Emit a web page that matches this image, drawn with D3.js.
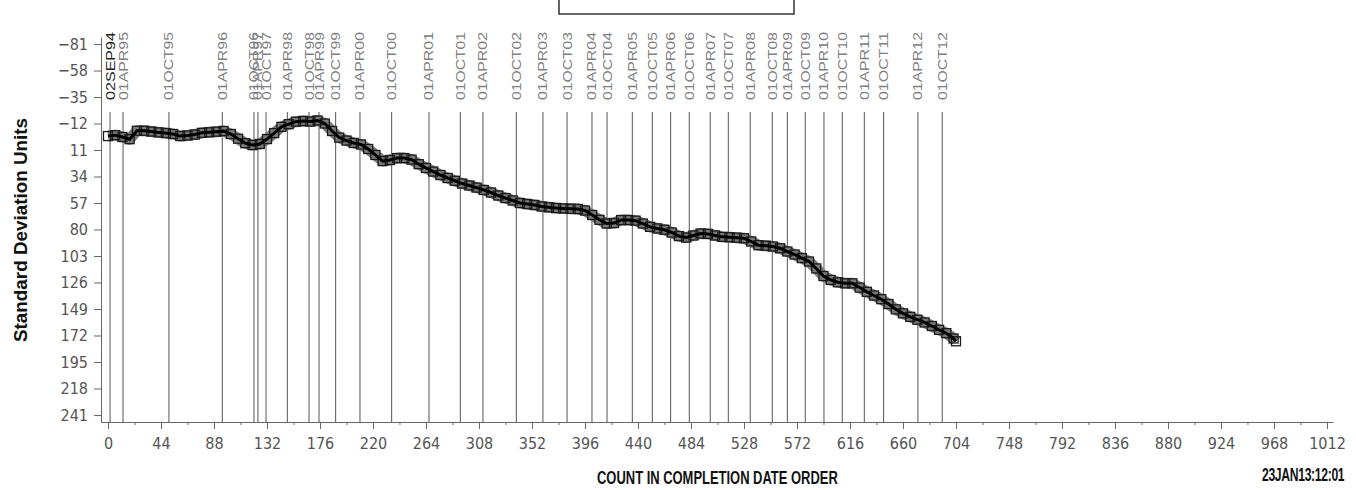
<!DOCTYPE html>
<html>
<head>
<meta charset="utf-8">
<script src="https://d3js.org/d3.v7.min.js"></script>
<style>
  body { margin: 0; background: #fff; }
  svg { display: block; }
  .tick text { font-family: "Liberation Sans Narrow", "DejaVu Sans Condensed", sans-serif; font-size: 16px; fill: #555; }
  .tick line, .domain { stroke: #666; }
</style>
</head>
<body>
<div id="chart"></div>
<script>
// completion count order
var counts = [0, 6, 12, 18, 24, 30, 36, 42, 48, 54, 60, 66, 72, 78, 84, 90, 96, 102, 108, 114,
  120, 126, 132, 138, 144, 150, 156, 162, 168, 174, 180, 186, 192, 198, 204, 210, 216, 222, 228, 234,
  240, 246, 252, 258, 264, 270, 276, 282, 288, 294, 300, 306, 312, 318, 324, 330, 336, 342, 348, 354,
  360, 366, 372, 378, 384, 390, 396, 402, 408, 414, 420, 426, 432, 438, 444, 450, 456, 462, 468, 474,
  480, 486, 492, 498, 504, 510, 516, 522, 528, 534, 540, 546, 552, 558, 564, 570, 576, 582, 588, 594,
  600, 606, 612, 618, 624, 630, 636, 642, 648, 654, 660, 666, 672, 678, 684, 690, 696, 702, 704];

// standard deviation units (cumulative)
var devUnits = [-1.1, -1.9, -0.3, 1.6, -5.7, -5.7, -5.0, -4.3, -3.7, -2.9, -1.1, -1.6, -2.4, -3.9, -4.4, -4.9, -5.5, -2.9, 1.2, 5.1,
  6.7, 5.8, 1.5, -3.7, -9.1, -11.4, -13.6, -14.2, -13.7, -14.6, -12, -5.5, 0.2, 2.8, 4.9, 6.2, 10.1, 15.3, 20.6, 19.7,
  18, 18, 19.3, 23.3, 26.6, 29.7, 32.7, 35.3, 37.7, 40.1, 41.8, 43.6, 45.7, 47.9, 50.5, 52.7, 54.8, 57, 57.9, 58.7,
  60, 60.7, 61.4, 61.7, 62, 62.2, 63.5, 67.4, 71.6, 74.8, 74.4, 71.8, 71.8, 72.3, 74.8, 77.7, 79.1, 80.2, 82.6, 85.7,
  87, 85.2, 83.5, 83.8, 85.2, 86.4, 86.7, 87.1, 87.6, 90.4, 93.6, 94.1, 94.8, 96.3, 99.1, 101.7, 104.8, 107.8, 113.8, 120.4,
  123.8, 125.8, 126.7, 126.7, 130.4, 134.1, 137.3, 140.5, 144.7, 149.3, 152.8, 155.8, 158.3, 160.7, 163.8, 167.1, 170, 174.6, 177];

// date reference lines
var refCounts = [1.7, 12.5, 50.6, 94.9, 121.2, 124.5, 131.2, 148.9, 166.9, 175.2, 189.0, 209.2, 235.5,
  266.5, 292.5, 311.3, 339.0, 361.1, 381.1, 401.8, 414.3, 435.3, 451.9, 467.1, 482.6, 500.0, 515.0,
  533.2, 551.5, 564.0, 578.9, 594.4, 609.6, 627.9, 643.9, 672.4, 692.6];
var refLabels = ["02SEP94", "01APR95", "01OCT95", "01APR96", "01OCT96", "01APR97", "01OCT97", "01APR98",
  "01OCT98", "01APR99", "01OCT99", "01APR00", "01OCT00", "01APR01", "01OCT01", "01APR02", "01OCT02",
  "01APR03", "01OCT03", "01APR04", "01OCT04", "01APR05", "01OCT05", "01APR06", "01OCT06", "01APR07",
  "01OCT07", "01APR08", "01OCT08", "01APR09", "01OCT09", "01APR10", "01OCT10", "01APR11", "01OCT11",
  "01APR12", "01OCT12"];

var xTicks = [0, 44, 88, 132, 176, 220, 264, 308, 352, 396, 440, 484, 528, 572, 616, 660, 704, 748, 792, 836, 880, 924, 968, 1012];
var xMinorTicks = [22, 66, 110, 154, 198, 242, 286, 330, 374, 418, 462, 506, 550, 594, 638, 682, 726, 770, 814, 858, 902, 946, 990];
var yTicks = [-81, -58, -35, -12, 11, 34, 57, 80, 103, 126, 149, 172, 195, 218, 241];

var width = 1356, height = 490;

var svg = d3.select("#chart").append("svg")
    .attr("width", width)
    .attr("height", height);

var x = d3.scaleLinear().domain([-5.8, 1017]).range([101, 1333]);
var y = d3.scaleLinear().domain([-87.1, 247.1]).range([37, 422]);

// header box (cut off at the top)
svg.append("rect")
    .attr("x", 559).attr("y", -3)
    .attr("width", 235).attr("height", 17)
    .style("fill", "#fff").style("stroke", "#333").style("stroke-width", 1.5);

// reference lines
svg.selectAll(".refline")
    .data(refCounts)
    .enter().append("line")
    .attr("class", "refline")
    .attr("x1", function (d) { return x(d); })
    .attr("x2", function (d) { return x(d); })
    .attr("y1", 112)
    .attr("y2", y.range()[1])
    .style("stroke", "#555")
    .style("stroke-width", 1);

svg.selectAll(".reflabel")
    .data(refCounts)
    .enter().append("text")
    .attr("class", "reflabel")
    .attr("transform", function (d) { return "translate(" + (x(d) + 4.5) + ",100) rotate(-90)"; })
    .attr("textLength", 68)
    .attr("lengthAdjust", "spacingAndGlyphs")
    .style("font-family", "Liberation Sans, Arial, sans-serif")
    .style("font-size", "12.5px")
    .style("fill", function (d, i) { return i == 0 ? "#222" : "#808080"; })
    .text(function (d, i) { return refLabels[i]; });

// axes
var yAxis = d3.axisLeft(y).tickValues(yTicks).tickSize(7).tickPadding(6).tickSizeOuter(0)
    .tickFormat(function (d) { return d < 0 ? "\u2212" + Math.abs(d) : d; });
svg.append("g")
    .attr("transform", "translate(101,0)")
    .call(yAxis);

var xAxis = d3.axisBottom(x).tickValues(xTicks).tickSize(7).tickPadding(9).tickSizeOuter(0)
    .tickFormat(d3.format("d"));
svg.append("g")
    .attr("transform", "translate(0,422)")
    .call(xAxis);

svg.append("g")
    .attr("transform", "translate(0,422)")
    .call(d3.axisBottom(x).tickValues(xMinorTicks).tickSize(3).tickFormat("").tickSizeOuter(0))
    .select(".domain").remove();

// series
var pts = counts.map(function (c, i) { return [c, devUnits[i]]; });
var line = d3.line()
    .x(function (d) { return x(d[0]); })
    .y(function (d) { return y(d[1]); });

svg.append("path")
    .datum(pts)
    .attr("d", line)
    .style("fill", "none")
    .style("stroke", "#7a7a7a")
    .style("stroke-width", 11)
    .style("stroke-linejoin", "round");

svg.selectAll(".mark")
    .data(pts)
    .enter().append("rect")
    .attr("class", "mark")
    .attr("x", function (d) { return x(d[0]) - 4.5; })
    .attr("y", function (d) { return y(d[1]) - 4.5; })
    .attr("width", 9)
    .attr("height", 9)
    .style("fill", "none")
    .style("stroke", "#1a1a1a")
    .style("stroke-width", 1.3);

svg.append("path")
    .datum(pts)
    .attr("d", line)
    .style("fill", "none")
    .style("stroke", "#000")
    .style("stroke-width", 3);

// titles
svg.append("text")
    .attr("transform", "translate(27,230) rotate(-90)")
    .attr("text-anchor", "middle")
    .attr("textLength", 224)
    .attr("lengthAdjust", "spacingAndGlyphs")
    .style("font-family", "Liberation Sans, Arial, sans-serif")
    .style("font-weight", "bold")
    .style("font-size", "18px")
    .style("fill", "#111")
    .text("Standard Deviation Units");

svg.append("text")
    .attr("transform", "translate(597,484) scale(0.72,1)")
    .style("font-family", "Liberation Sans, Arial, sans-serif")
    .style("font-weight", "bold")
    .style("font-size", "18px")
    .style("fill", "#111")
    .text("COUNT IN COMPLETION DATE ORDER");

svg.append("text")
    .attr("transform", "translate(1262,481) scale(0.64,1)")
    .style("font-family", "Liberation Sans, Arial, sans-serif")
    .style("font-weight", "bold")
    .style("font-size", "19px")
    .style("letter-spacing", "-0.5px")
    .style("fill", "#111")
    .text("23JAN13:12:01");
</script>
</body>
</html>
